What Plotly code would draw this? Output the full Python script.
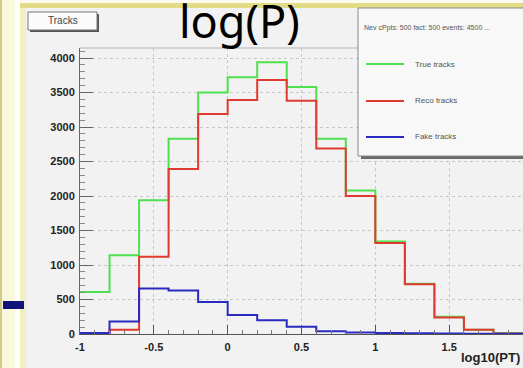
import plotly.graph_objects as go

# Bin edges of log10(PT) and per-bin track counts
bin_edges = [-1.0, -0.8, -0.6, -0.4, -0.2, 0.0, 0.2, 0.4, 0.6, 0.8,
             1.0, 1.2, 1.4, 1.6, 1.8, 2.0]
true_tracks = [610, 1140, 1940, 2830, 3500, 3720, 3940, 3580, 2830,
               2080, 1340, 730, 250, 60, 10]
reco_tracks = [10, 60, 1120, 2390, 3190, 3390, 3680, 3380, 2690,
               2000, 1320, 720, 240, 60, 8]
fake_tracks = [15, 180, 660, 630, 465, 275, 200, 105, 40,
               22, 15, 10, 6, 4, 3]

series_names = ["True tracks", "Reco tracks", "Fake tracks"]
series_colors = ["#4ee04e", "#e03a30", "#2a2ac0"]
y_tick_values = [0, 500, 1000, 1500, 2000, 2500, 3000, 3500, 4000]
x_tick_values = [-1, -0.5, 0, 0.5, 1, 1.5, 2]
x_tick_labels = ["-1", "-0.5", "0", "0.5", "1", "1.5", "2"]

W, H = 523, 368


def px(x):
    return x / W


def py(y):
    return 1 - y / H


fig = go.Figure()

for name, vals, col in zip(series_names,
                           [true_tracks, reco_tracks, fake_tracks],
                           series_colors):
    fig.add_trace(go.Scatter(
        x=bin_edges, y=vals + [vals[-1]], mode="lines", name=name,
        line=dict(color=col, width=2, shape="hv"), showlegend=False,
    ))

shapes = []
# slide frame: left strip, bullet and top rule
shapes.append(dict(type="rect", xref="paper", yref="paper", x0=0, x1=px(2),
                   y0=0, y1=1, fillcolor="#d2cc88", line_width=0, layer="below"))
shapes.append(dict(type="rect", xref="paper", yref="paper", x0=px(2), x1=px(15),
                   y0=0, y1=1, fillcolor="#f9f7dc", line_width=0, layer="below"))
shapes.append(dict(type="rect", xref="paper", yref="paper", x0=px(15), x1=px(20),
                   y0=0, y1=1, fillcolor="#fffffa", line_width=0, layer="below"))
shapes.append(dict(type="rect", xref="paper", yref="paper", x0=px(20), x1=px(26),
                   y0=0, y1=1, fillcolor="#f1efc4", line_width=0, layer="below"))
shapes.append(dict(type="rect", xref="paper", yref="paper", x0=px(20), x1=1,
                   y0=py(3), y1=1, fillcolor="#fbfbf0", line_width=0, layer="below"))
shapes.append(dict(type="rect", xref="paper", yref="paper", x0=px(20), x1=1,
                   y0=py(8), y1=py(3), fillcolor="#e2dc86", line_width=0, layer="below"))
shapes.append(dict(type="rect", xref="paper", yref="paper", x0=px(3), x1=px(24),
                   y0=py(309), y1=py(301), fillcolor="#12127a", line_width=0))
# frame top line of the pad
shapes.append(dict(type="line", xref="paper", yref="paper", x0=px(80), x1=1,
                   y0=py(48), y1=py(48), line=dict(color="#b4b4b4", width=1)))
# "Tracks" title box with shadow
shapes.append(dict(type="rect", xref="paper", yref="paper", x0=px(30), x1=px(99),
                   y0=py(32), y1=py(14), fillcolor="#555555", line_width=0))
shapes.append(dict(type="rect", xref="paper", yref="paper", x0=px(28), x1=px(97),
                   y0=py(30), y1=py(12), fillcolor="#fbfbfb",
                   line=dict(color="#777777", width=1)))
# statistics / legend box with shadow, running past the right edge
shapes.append(dict(type="rect", xref="paper", yref="paper", x0=px(361), x1=px(540),
                   y0=py(159), y1=py(10), fillcolor="#6a6a6a", line_width=0))
shapes.append(dict(type="rect", xref="paper", yref="paper", x0=px(358), x1=px(540),
                   y0=py(156), y1=py(8), fillcolor="#f8f8f8",
                   line=dict(color="#8a8a8a", width=1)))

legend_y = [64, 101, 137]
annotations = []
for name, col, yy in zip(series_names, series_colors, legend_y):
    shapes.append(dict(type="line", xref="paper", yref="paper", x0=px(366), x1=px(404),
                       y0=py(yy), y1=py(yy), line=dict(color=col, width=2)))
    annotations.append(dict(xref="paper", yref="paper", x=px(413), y=py(yy),
                            xanchor="left", yanchor="middle", showarrow=False,
                            text=name, font=dict(size=8, color="#555555",
                                                 family="Liberation Sans")))

annotations.append(dict(xref="paper", yref="paper", x=px(362), y=py(28),
                        xanchor="left", yanchor="middle", showarrow=False,
                        text="Nev cPpts: 500 fact: 500 events: 4500 ...",
                        font=dict(size=7, color="#555555", family="Liberation Sans")))
annotations.append(dict(xref="paper", yref="paper", x=px(63), y=py(21),
                        xanchor="center", yanchor="middle", showarrow=False,
                        text="Tracks", font=dict(size=10, color="#444444",
                                                 family="Liberation Sans")))
annotations.append(dict(xref="paper", yref="paper", x=px(522), y=py(357),
                        xanchor="right", yanchor="middle", showarrow=False,
                        text="<b>log10(PT)</b>", font=dict(size=13, color="#222222",
                                                           family="Liberation Sans")))
annotations.append(dict(xref="paper", yref="paper", x=px(239), y=py(21),
                        xanchor="center", yanchor="middle", showarrow=False,
                        text="log(P)", font=dict(size=45, color="#000000",
                                                 family="Noto Sans")))

fig.update_layout(
    width=W, height=H, margin=dict(l=0, r=0, t=0, b=0),
    paper_bgcolor="#f2f2f2", plot_bgcolor="#f2f2f2",
    shapes=shapes, annotations=annotations, showlegend=False,
    xaxis=dict(
        domain=[px(80), 1.0], range=[-1, 2], automargin=False,
        tickvals=x_tick_values, ticktext=x_tick_labels,
        ticks="inside", ticklen=9, tickcolor="#555555",
        minor=dict(ticks="inside", ticklen=4, dtick=0.1, tickcolor="#777777",
                   showgrid=False),
        showgrid=True, gridcolor="#c8c8c8", griddash="dot", gridwidth=1,
        showline=True, linecolor="#555555", linewidth=1, zeroline=False,
        ticklabelstandoff=3,
        tickfont=dict(size=11, color="#222222", family="Liberation Sans", weight="bold"),
    ),
    yaxis=dict(
        domain=[py(334), py(48)], range=[0, 4145], automargin=False,
        tickvals=y_tick_values,
        ticks="inside", ticklen=13, tickcolor="#666666",
        minor=dict(ticks="inside", ticklen=5, dtick=100, tickcolor="#888888",
                   showgrid=False),
        showgrid=True, gridcolor="#c8c8c8", griddash="dot", gridwidth=1,
        showline=True, linecolor="#666666", linewidth=1, zeroline=False,
        ticklabelstandoff=2,
        tickfont=dict(size=11, color="#222222", family="Liberation Sans", weight="bold"),
    ),
)

fig.write_html("out.html")
